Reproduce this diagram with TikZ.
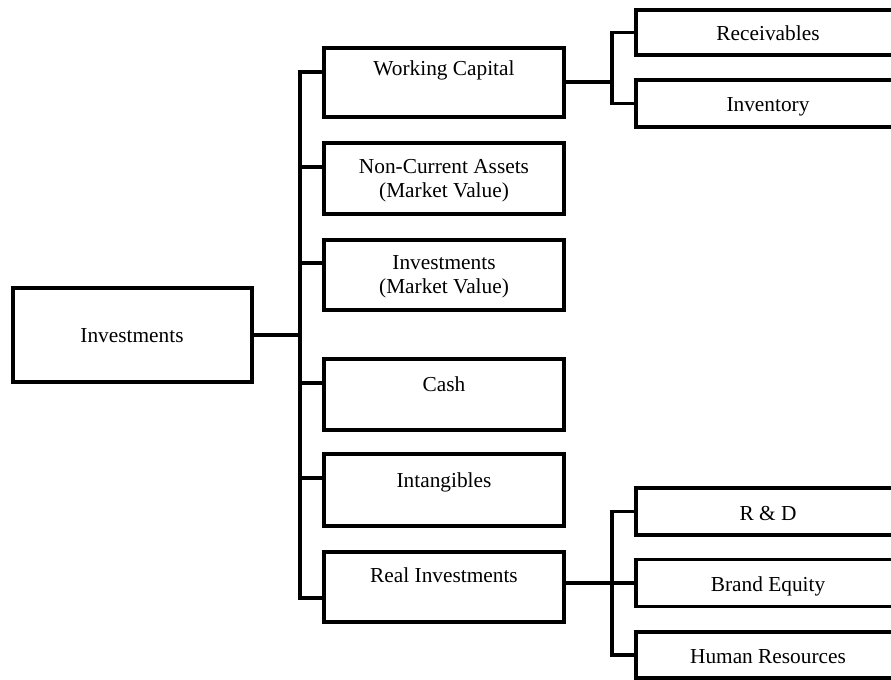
\documentclass[tikz,border=0pt]{standalone}
\usepackage{fontspec}
\setmainfont{Liberation Serif}
\begin{document}
\begin{tikzpicture}[x=0.75pt, y=-0.75pt, line join=miter,
  box/.style={draw, line width=2.6pt, rectangle, inner sep=0pt, outer sep=0pt},
  midbox/.style={box, minimum width=180pt},
  subbox/.style={box, minimum width=198pt},
  lbl/.style={anchor=base, align=center, inner sep=0pt, outer sep=0pt,
              font=\fontsize{16}{18}\selectfont},
  wire/.style={line width=2.4pt}]
\useasboundingbox (0,0) rectangle (891,680);
\clip (0,0) rectangle (891,680);

% root
\node[box, minimum width=179.25pt, minimum height=70.5pt] (root) at (132.5,335) {};

% second level
\node[midbox, minimum height=51.75pt] (wc)     at (444,82.5) {};
\node[midbox, minimum height=53.25pt] (nca)    at (444,178.5) {};
\node[midbox, minimum height=52.5pt]  (inv)    at (444,275) {};
\node[midbox, minimum height=53.25pt] (cash)   at (444,394.5) {};
\node[midbox, minimum height=54pt]    (intang) at (444,490) {};
\node[midbox, minimum height=52.5pt]  (real)   at (444,587) {};

% third level
\node[subbox, minimum height=33.75pt] (rec)   at (768,32.5) {};
\node[subbox, minimum height=35.25pt] (invt)  at (768,103.5) {};
\node[subbox, minimum height=35.25pt] (rd)    at (768,511.5) {};
\node[subbox, minimum height=35.25pt] (brand) at (768,583) {};
\node[subbox, minimum height=34.5pt]  (hr)    at (768,655) {};

% labels (base anchor = baseline of the last line)
\node[lbl] (rootT)   at (132,343) {Investments};
\node[lbl] (wcT)     at (444,76)  {Working Capital};
\node[lbl] (ncaT)    at (444,198) {Non-Current Assets\\(Market Value)};
\node[lbl] (invT)    at (444,294) {Investments\\(Market Value)};
\node[lbl] (cashT)   at (444,391) {Cash};
\node[lbl] (intangT) at (444,487) {Intangibles};
\node[lbl] (realT)   at (444,582) {Real Investments};
\node[lbl] (recT)    at (768,40.5) {Receivables};
\node[lbl] (invtT)   at (768,112) {Inventory};
\node[lbl] (rdT)     at (768,520) {R \& D};
\node[lbl] (brandT)  at (768,591) {Brand Equity};
\node[lbl] (hrT)     at (768,663) {Human Resources};

% attachment points
\path (wc.north west)     ++(0,24) coordinate (wcL);
\path (nca.north west)    ++(0,24) coordinate (ncaL);
\path (inv.north west)    ++(0,23) coordinate (invL);
\path (cash.north west)   ++(0,24) coordinate (cashL);
\path (intang.north west) ++(0,24) coordinate (intangL);
\path (real.north west)   ++(0,46) coordinate (realL);
\path (wc.north east)     ++(0,34) coordinate (wcR);
\path (real.north east)   ++(0,31) coordinate (realR);
\coordinate (spine) at (300,335);
\coordinate (fork1) at (612,82);
\coordinate (fork2) at (612,583);

% main trunk
\draw[wire] (wcL) -| (spine) |- (realL);
\draw[wire] (root.east) -- (spine);
\draw[wire] (ncaL) -- (ncaL -| spine);
\draw[wire] (invL) -- (invL -| spine);
\draw[wire] (cashL) -- (cashL -| spine);
\draw[wire] (intangL) -- (intangL -| spine);

% working capital branch
\draw[wire] (wcR) -- (fork1);
\draw[wire] (rec.west) -| (fork1) |- (invt.west);

% real investments branch
\draw[wire] (realR) -- (fork2);
\draw[wire] (rd.west) -| (fork2) |- (hr.west);
\draw[wire] (fork2) -- (brand.west);
\end{tikzpicture}
\end{document}
